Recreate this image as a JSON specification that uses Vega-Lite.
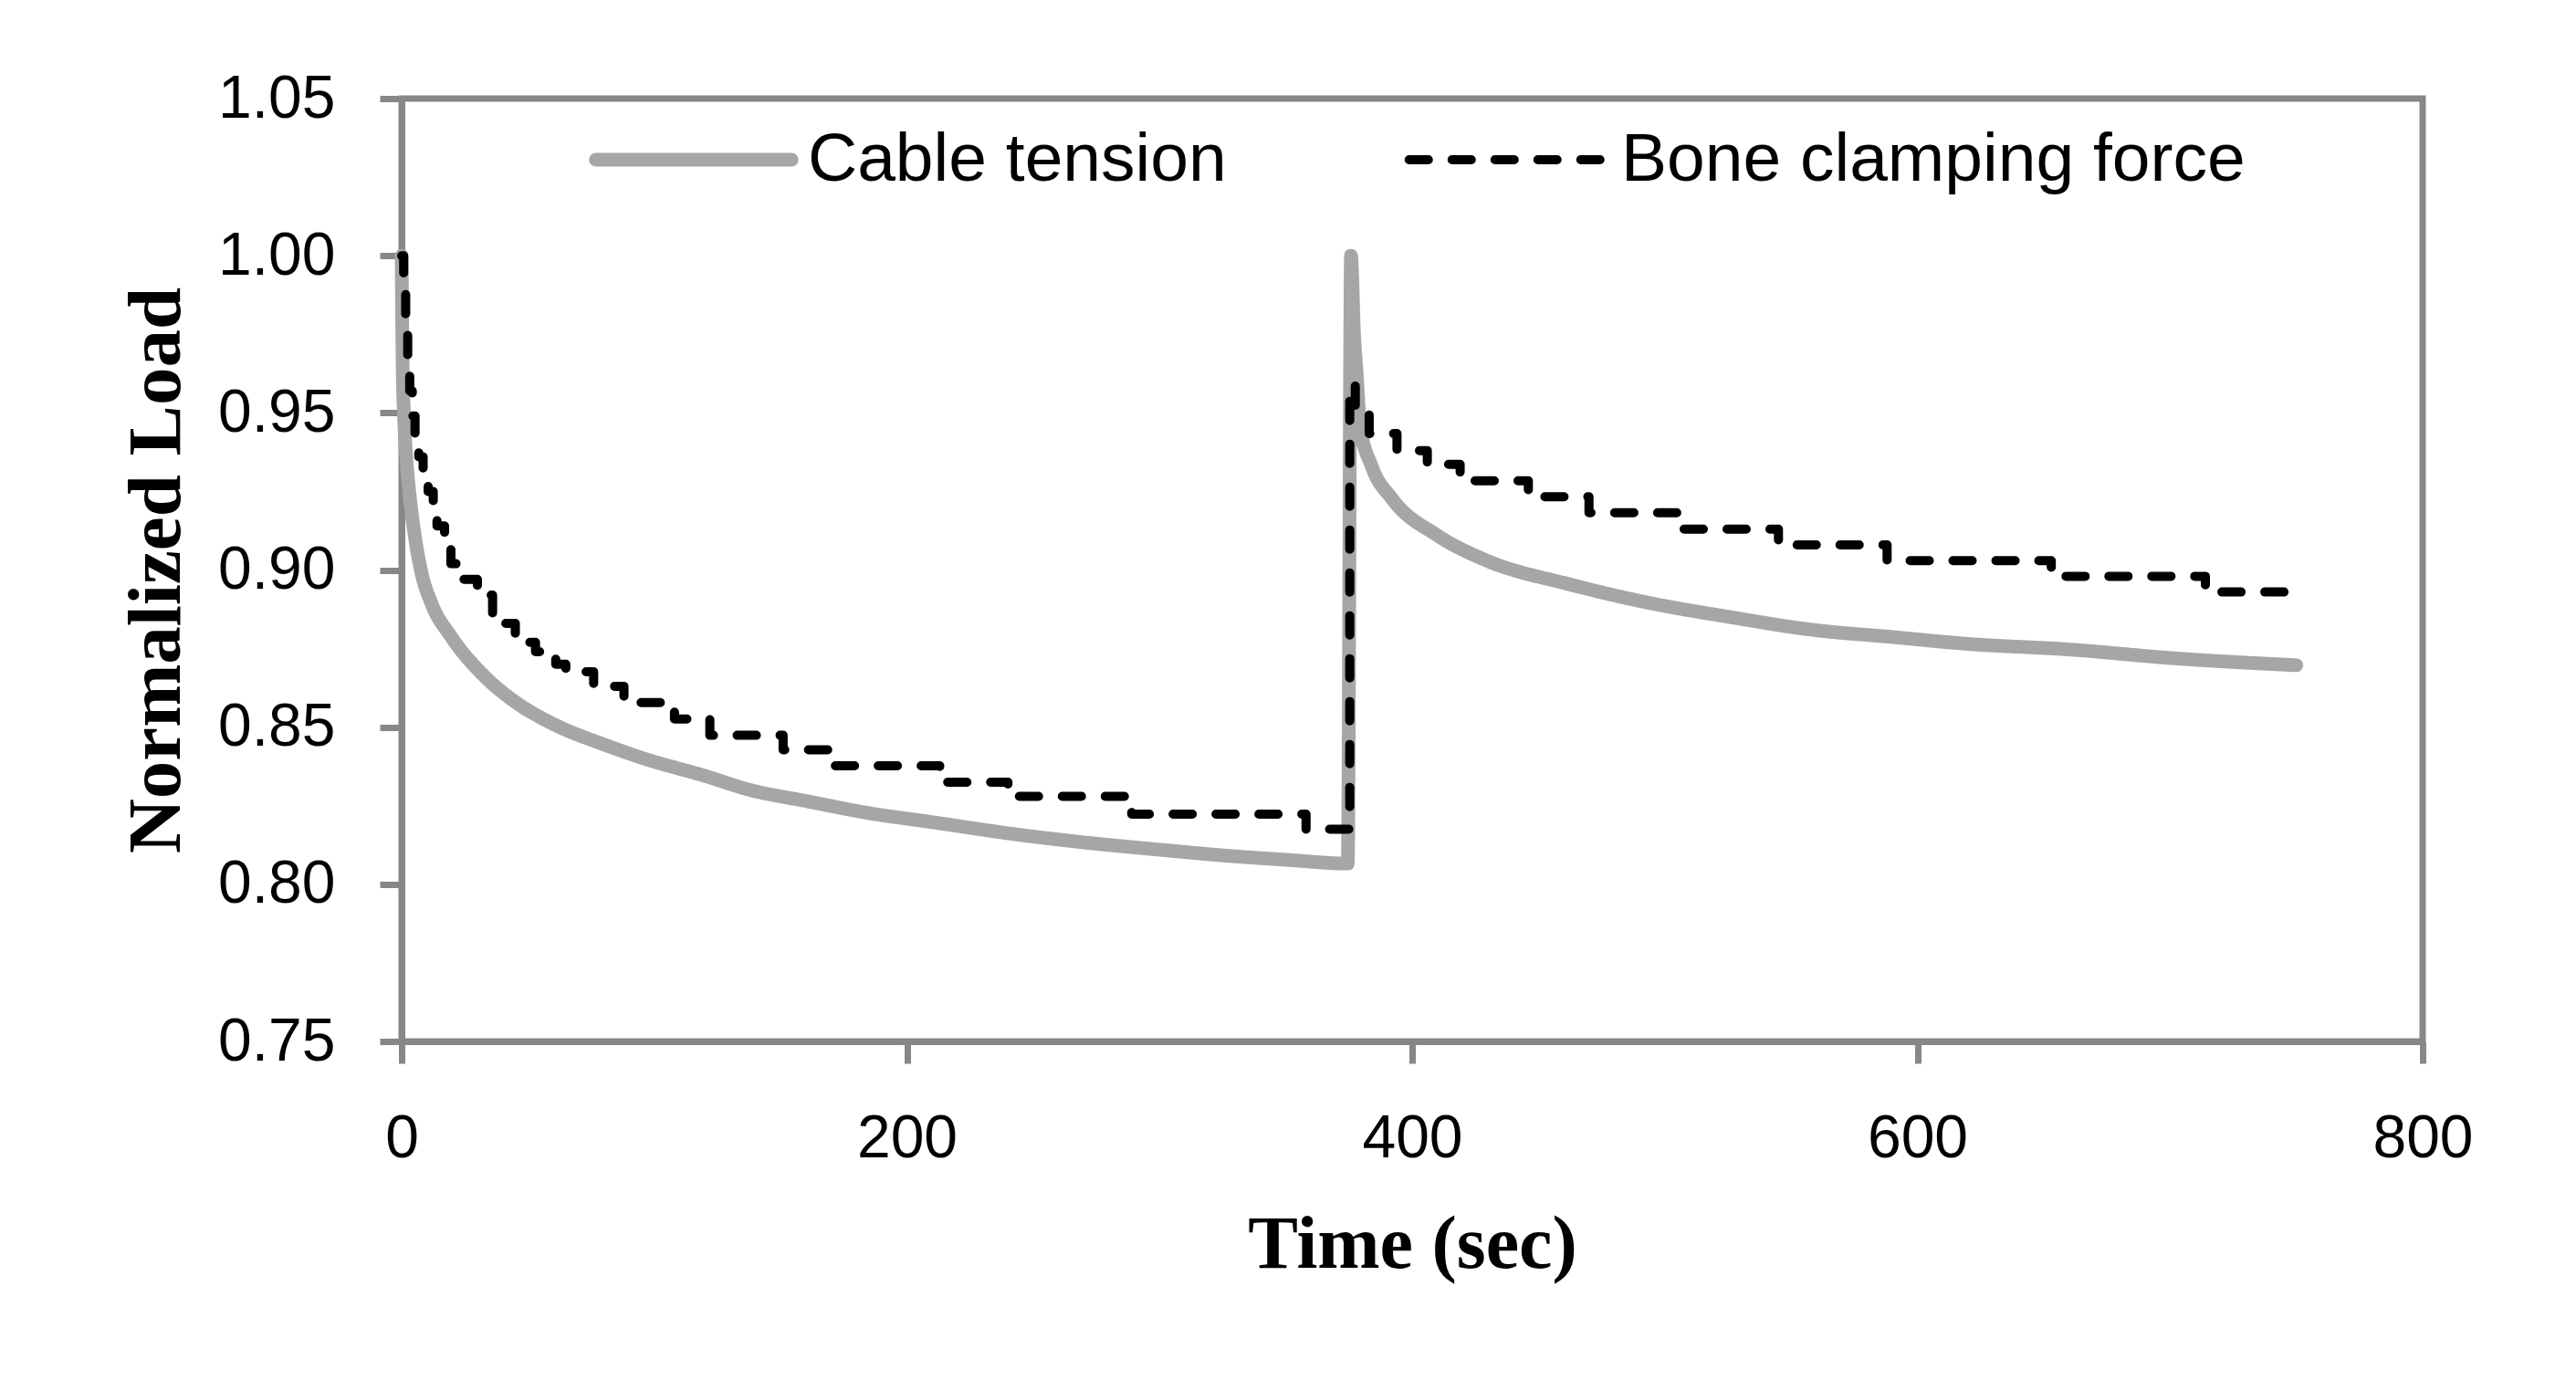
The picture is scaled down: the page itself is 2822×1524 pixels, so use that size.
{
  "$schema": "https://vega.github.io/schema/vega-lite/v6.json",
  "width": 2214,
  "height": 1033,
  "autosize": {"type": "none"},
  "padding": {"left": 440, "top": 108, "right": 168, "bottom": 383},
  "background": "white",
  "datasets": {
    "cable": [
      {"t": 0, "load": 1.0}, {"t": 0.4, "load": 0.965}, {"t": 1, "load": 0.948}, {"t": 2, "load": 0.934},
      {"t": 3, "load": 0.925}, {"t": 5, "load": 0.912}, {"t": 7.6, "load": 0.9}, {"t": 12, "load": 0.889},
      {"t": 19.4, "load": 0.879}, {"t": 33, "load": 0.866}, {"t": 45, "load": 0.858}, {"t": 60, "load": 0.851},
      {"t": 80, "load": 0.8445}, {"t": 96, "load": 0.84}, {"t": 120, "load": 0.8345}, {"t": 138, "load": 0.83},
      {"t": 160, "load": 0.8265}, {"t": 186, "load": 0.8225}, {"t": 208, "load": 0.82}, {"t": 244, "load": 0.8158},
      {"t": 268, "load": 0.8135}, {"t": 300, "load": 0.811}, {"t": 328, "load": 0.809}, {"t": 350, "load": 0.8078},
      {"t": 374.5, "load": 0.8066}, {"t": 375.8, "load": 1.0}, {"t": 377, "load": 0.975}, {"t": 378, "load": 0.963},
      {"t": 379.4, "load": 0.946}, {"t": 384, "load": 0.933}, {"t": 392, "load": 0.9227}, {"t": 410, "load": 0.911},
      {"t": 429.5, "load": 0.903}, {"t": 462, "load": 0.8955}, {"t": 494, "load": 0.8895}, {"t": 526, "load": 0.885},
      {"t": 558, "load": 0.881}, {"t": 591, "load": 0.8786}, {"t": 618, "load": 0.8766}, {"t": 662, "load": 0.8746},
      {"t": 700, "load": 0.872}, {"t": 750, "load": 0.8697}
    ],
    "bone": [
      {"t": 0, "load": 1.0}, {"t": 0.8, "load": 0.988}, {"t": 1.6, "load": 0.976}, {"t": 2.4, "load": 0.966},
      {"t": 3.2, "load": 0.957}, {"t": 4.2, "load": 0.949}, {"t": 5.3, "load": 0.943}, {"t": 6.8, "load": 0.936},
      {"t": 8.5, "load": 0.93}, {"t": 10.5, "load": 0.925}, {"t": 12.5, "load": 0.919}, {"t": 14, "load": 0.914},
      {"t": 17, "load": 0.908}, {"t": 19.5, "load": 0.902}, {"t": 24, "load": 0.897}, {"t": 30, "load": 0.892},
      {"t": 36, "load": 0.886}, {"t": 41, "load": 0.883}, {"t": 45, "load": 0.879}, {"t": 50, "load": 0.877},
      {"t": 53, "load": 0.874}, {"t": 58, "load": 0.872}, {"t": 61, "load": 0.87}, {"t": 65, "load": 0.8676},
      {"t": 76, "load": 0.863}, {"t": 88, "load": 0.8578}, {"t": 108, "load": 0.8526}, {"t": 122, "load": 0.8474},
      {"t": 151, "load": 0.8428}, {"t": 171, "load": 0.8377}, {"t": 213, "load": 0.8325}, {"t": 240, "load": 0.828},
      {"t": 289, "load": 0.8223}, {"t": 358, "load": 0.8175}, {"t": 375.3, "load": 0.959}, {"t": 377.5, "load": 0.952},
      {"t": 383, "load": 0.9434}, {"t": 394, "load": 0.938}, {"t": 406, "load": 0.9336}, {"t": 419, "load": 0.9284},
      {"t": 446, "load": 0.9233}, {"t": 470, "load": 0.9182}, {"t": 505, "load": 0.913}, {"t": 545, "load": 0.908},
      {"t": 588, "load": 0.903}, {"t": 653, "load": 0.898}, {"t": 714, "load": 0.893}, {"t": 750, "load": 0.893}
    ]
  },
  "encoding": {
    "x": {
      "field": "t",
      "type": "quantitative",
      "scale": {"domain": [0, 800], "nice": false},
      "axis": {
        "values": [0, 200, 400, 600, 800],
        "title": "Time (sec)",
        "grid": false,
        "ticks": true,
        "tickSize": 24,
        "tickWidth": 7,
        "tickColor": "#878787",
        "labelFlush": false,
        "labelPadding": 50,
        "labelFont": "Liberation Sans",
        "labelFontSize": 66,
        "labelColor": "#000000",
        "domainColor": "#878787",
        "domainWidth": 7,
        "titleFont": "Liberation Serif",
        "titleFontWeight": "bold",
        "titleFontSize": 82,
        "titleColor": "#000000",
        "titlePadding": 43,
        "encode": {"ticks": {"update": {"y": {"value": -24}}}}
      }
    },
    "y": {
      "field": "load",
      "type": "quantitative",
      "scale": {"domain": [0.75, 1.05], "zero": false, "nice": false},
      "axis": {
        "values": [0.75, 0.8, 0.85, 0.9, 0.95, 1.0, 1.05],
        "format": ".2f",
        "title": "Normalized Load",
        "grid": false,
        "ticks": true,
        "tickSize": 24,
        "tickWidth": 7,
        "tickColor": "#878787",
        "labelFlush": false,
        "labelPadding": 49,
        "labelFont": "Liberation Sans",
        "labelFontSize": 66,
        "labelColor": "#000000",
        "domainColor": "#878787",
        "domainWidth": 7,
        "titleFont": "Liberation Serif",
        "titleFontWeight": "bold",
        "titleFontSize": 83,
        "titleColor": "#000000",
        "titlePadding": 27,
        "encode": {"ticks": {"update": {"x": {"value": 24}}}}
      }
    }
  },
  "layer": [
    {
      "data": {"name": "cable"},
      "transform": [{"calculate": "'Cable tension'", "as": "series"}],
      "mark": {"type": "line", "interpolate": "monotone", "strokeCap": "round", "strokeJoin": "round"},
      "encoding": {
        "color": {
          "field": "series",
          "type": "nominal",
          "scale": {"domain": ["Cable tension", "Bone clamping force"], "range": ["#a6a6a6", "#000000"]},
          "legend": {
            "orient": "none",
            "legendX": 205,
            "legendY": 27,
            "direction": "horizontal",
            "columns": 2,
            "title": null,
            "labelFont": "Liberation Sans",
            "labelFontSize": 75,
            "labelColor": "#000000",
            "labelLimit": 2000,
            "symbolType": "stroke",
            "symbolSize": 46000,
            "clipHeight": 80,
            "columnPadding": 192,
            "labelOffset": 10,
            "encode": {"symbols": {"update": {"strokeCap": {"value": "round"}}}}
          }
        },
        "strokeDash": {
          "field": "series",
          "type": "nominal",
          "scale": {"domain": ["Cable tension", "Bone clamping force"], "range": [[1, 0], [21, 26]]}
        },
        "strokeWidth": {
          "field": "series",
          "type": "nominal",
          "scale": {"domain": ["Cable tension", "Bone clamping force"], "range": [15, 10]}
        }
      }
    },
    {
      "data": {"name": "bone"},
      "transform": [{"calculate": "'Bone clamping force'", "as": "series"}],
      "mark": {"type": "line", "interpolate": "step-after", "strokeCap": "round", "strokeJoin": "round"},
      "encoding": {
        "color": {"field": "series", "type": "nominal"},
        "strokeDash": {"field": "series", "type": "nominal"},
        "strokeWidth": {"field": "series", "type": "nominal"}
      }
    }
  ],
  "config": {
    "view": {"stroke": "#878787", "strokeWidth": 7},
    "legend": {"padding": 0}
  }
}
